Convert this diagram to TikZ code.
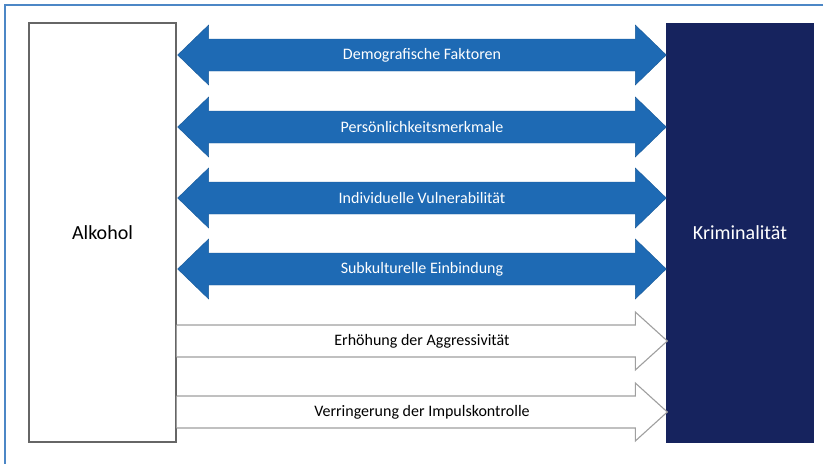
\documentclass[tikz,border=0pt]{standalone}
\usepackage{fontspec}
\setmainfont{Carlito}
\usetikzlibrary{calc}
\definecolor{arrblue}{HTML}{1E6AB4}
\definecolor{navy}{HTML}{16235E}
\definecolor{framebl}{HTML}{4C87C6}

\begin{document}
\begin{tikzpicture}[x=1pt,y=-1pt,
  box/.style={rectangle, minimum width=147pt, minimum height=419pt, inner sep=0pt, font=\fontsize{20}{24}\selectfont},
  dbl/.style={fill=arrblue, draw=arrblue!85!black, line width=0.4pt},
  sgl/.style={fill=white, draw=gray!75, line width=1.1pt},
  lab/.style={font=\fontsize{16}{19}\selectfont, inner sep=1pt}]
\useasboundingbox (0,0) rectangle (828,464);
\draw[framebl, line width=1.5pt] (823,5) -- (5,5) -- (5,464);
\node[box, draw=gray!80!black, line width=1.3pt, fill=white] (alk) at (102.5,232.5) {Alkohol};
\node[box, draw=navy, fill=navy, text=white] (krim) at (740,233) {Kriminalität};
% wechselseitige Zusammenhaenge
\foreach \y/\txt [count=\i] in {55/Demografische Faktoren, 127/Persönlichkeitsmerkmale,
    198/Individuelle Vulnerabilität, 269/Subkulturelle Einbindung}{
  \coordinate (a\i) at ([xshift=1pt]alk.east |- 0,\y);
  \coordinate (b\i) at (krim.west |- 0,\y);
  \filldraw[dbl] (a\i) -- ++(31,-30) -- ++(0,14) -- ($(b\i)+(-31,-16)$) -- ++(0,-14) -- (b\i)
    -- ++(-31,30) -- ++(0,-14) -- ($(a\i)+(31,16)$) -- ++(0,14) -- cycle;
  \node[lab, text=white] (d\i) at ($(a\i)!0.5!(b\i)$) {\txt};
}
% direkte Wirkungen
\foreach \y/\txt [count=\i] in {341/Erhöhung der Aggressivität, 412/Verringerung der Impulskontrolle}{
  \coordinate (c\i) at (alk.east |- 0,\y);
  \coordinate (e\i) at ([xshift=1pt]krim.west |- 0,\y);
  \filldraw[sgl] ($(c\i)+(0,-16)$) -- ($(e\i)+(-32,-16)$) -- ++(0,-13) -- (e\i)
    -- ++(-32,29) -- ++(0,-13) -- ($(c\i)+(0,16)$);
  \node[lab, text=black] (w\i) at ($(c\i)!0.5!(e\i)$) {\txt};
}
\end{tikzpicture}
\end{document}
